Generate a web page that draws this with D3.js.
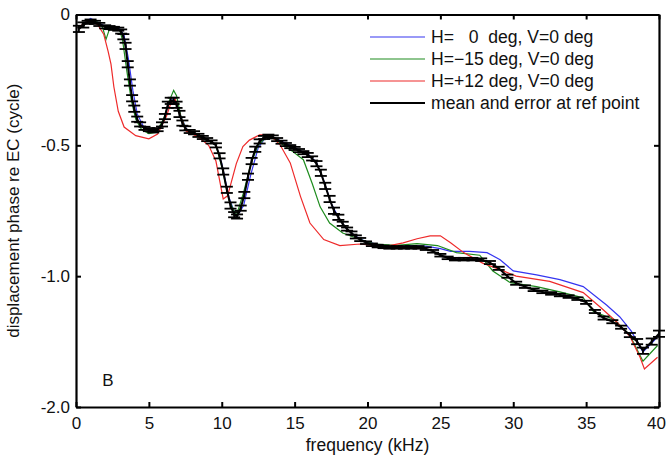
<!DOCTYPE html>
<html>
<head>
<meta charset="utf-8">
<script src="https://cdn.jsdelivr.net/npm/d3@7"></script>
<style>
  body { margin: 0; background: #fff; }
  text { font-family: "Liberation Sans", Arial, sans-serif; fill: #111; }
</style>
</head>
<body>
<div id="viz"></div>
<script>
// tick labels as printed on the figure
const xTicks = [0, 5, 10, 15, 20, 25, 30, 35, 40];
const yTicks = [0, -0.5, -1.0, -1.5];
const yTickLabels = ["0", "-0.5", "-1.0", "-2.0"];

const legendLabels = [
  "H=   0  deg, V=0 deg",
  "H=\u221215 deg, V=0 deg",
  "H=+12 deg, V=0 deg",
  "mean and error at ref point"
];

// H = 0 deg (blue)
const blueFreq  = [0.2, 0.5, 1.0, 1.5, 2.0, 2.5, 3.0, 3.3, 3.6, 3.9, 4.2, 4.6, 5.0, 5.5, 6.0, 6.3, 6.6, 6.9, 7.2, 7.6, 8.0, 9.0, 9.6, 10.0, 10.5, 11.0, 11.5, 12.0, 12.5, 13.0, 13.4, 14.0, 15.0, 16.0, 16.5, 17.0, 17.5, 18.0, 18.5, 19.0, 19.5, 20.0, 21.0, 22.0, 23.0, 24.0, 25.0, 25.7, 27.0, 28.2, 29.1, 30.0, 31.6, 33.2, 34.8, 36.4, 37.3, 38.1, 38.9, 39.6, 40.0];
const bluePhase = [-0.05, -0.035, -0.015, -0.03, -0.045, -0.05, -0.055, -0.08, -0.17, -0.29, -0.38, -0.425, -0.44, -0.445, -0.41, -0.35, -0.325, -0.34, -0.39, -0.44, -0.45, -0.478, -0.5, -0.57, -0.7, -0.775, -0.73, -0.61, -0.51, -0.47, -0.465, -0.482, -0.508, -0.538, -0.565, -0.635, -0.72, -0.775, -0.815, -0.84, -0.858, -0.87, -0.882, -0.884, -0.883, -0.885, -0.895, -0.905, -0.905, -0.91, -0.937, -0.98, -0.995, -1.013, -1.04, -1.11, -1.155, -1.21, -1.29, -1.25, -1.225];

// H = -15 deg (green)
const greenFreq  = [0.2, 0.5, 1.0, 1.5, 1.8, 2.06, 2.3, 2.7, 3.0, 3.2, 3.5, 3.8, 4.1, 4.5, 5.0, 5.5, 6.0, 6.4, 6.7, 6.9, 7.2, 7.6, 8.0, 9.0, 9.6, 10.0, 10.5, 11.0, 11.5, 12.0, 12.5, 13.0, 13.3, 14.0, 14.9, 15.6, 16.2, 16.75, 17.4, 18.3, 19.5, 20.5, 22.0, 23.4, 24.8, 26.1, 27.7, 28.6, 29.8, 31.6, 33.2, 34.8, 35.5, 36.9, 38.0, 38.9, 39.9];
const greenPhase = [-0.05, -0.035, -0.02, -0.03, -0.045, -0.095, -0.055, -0.055, -0.06, -0.1, -0.22, -0.33, -0.4, -0.44, -0.455, -0.45, -0.4, -0.33, -0.29, -0.31, -0.39, -0.445, -0.455, -0.48, -0.5, -0.58, -0.71, -0.77, -0.68, -0.57, -0.5, -0.47, -0.465, -0.49, -0.525, -0.555, -0.645, -0.735, -0.797, -0.835, -0.86, -0.877, -0.882, -0.876, -0.883, -0.91, -0.92, -0.98, -1.025, -1.04, -1.06, -1.083, -1.135, -1.165, -1.225, -1.325, -1.265];

// H = +12 deg (red)
const redFreq  = [0.2, 0.5, 1.0, 1.5, 1.9, 2.2, 2.4, 2.6, 2.9, 3.3, 4.1, 5.0, 5.6, 6.2, 6.5, 6.8, 7.05, 7.55, 8.4, 9.1, 9.6, 9.9, 10.1, 10.4, 11.0, 11.45, 11.9, 12.6, 13.3, 14.0, 14.7, 15.4, 16.05, 17.0, 18.1, 19.5, 21.1, 22.45, 23.4, 24.3, 25.0, 25.7, 26.6, 27.9, 29.1, 30.2, 32.5, 34.8, 36.0, 37.1, 38.0, 38.7, 39.0, 39.9];
const redPhase = [-0.05, -0.035, -0.02, -0.04, -0.075, -0.14, -0.19, -0.277, -0.37, -0.43, -0.463, -0.475, -0.457, -0.39, -0.34, -0.323, -0.37, -0.445, -0.468, -0.5, -0.56, -0.647, -0.705, -0.693, -0.57, -0.505, -0.48, -0.46, -0.46, -0.498, -0.567, -0.695, -0.797, -0.86, -0.883, -0.877, -0.888, -0.873, -0.857, -0.846, -0.846, -0.872, -0.91, -0.95, -0.975, -1.0, -1.02, -1.063, -1.12, -1.175, -1.23, -1.31, -1.355, -1.31];

// mean with error at reference point (black)
const meanFreq = [
  0.2, 0.5, 0.8, 1.0, 1.3, 1.6, 2.0, 2.3, 2.6, 2.9,
  3.1, 3.25, 3.4, 3.55, 3.7, 3.85, 4.0, 4.2, 4.4, 4.7,
  5.0, 5.3, 5.6, 5.9, 6.1, 6.3, 6.5, 6.7, 6.9, 7.1,
  7.3, 7.5, 7.8, 8.1, 8.4, 8.7, 9.0, 9.3, 9.6, 9.85,
  10.1, 10.35, 10.6, 10.85, 11.05, 11.3, 11.55, 11.8, 12.05, 12.3,
  12.6, 12.9, 13.2, 13.5, 13.8, 14.1, 14.4, 14.7, 15.0, 15.3,
  15.6, 15.9, 16.2, 16.5, 16.8, 17.1, 17.4, 17.7, 18.0, 18.3,
  18.6, 18.9, 19.2, 19.5, 19.9, 20.3, 20.7, 21.1, 21.5, 22.0,
  22.5, 23.0, 23.5, 24.0, 24.5, 25.0, 25.5, 26.0, 26.6, 27.2,
  27.8, 28.4, 29.0, 29.6, 30.2, 30.8, 31.4, 32.0, 32.6, 33.2,
  33.8, 34.4, 35.0, 35.6, 36.2, 36.8, 37.4, 38.0, 38.5, 38.9,
  39.5, 40.0
];
const meanPhase = [
  -0.055, -0.04, -0.03, -0.025, -0.03, -0.038, -0.047, -0.05, -0.053, -0.056,
  -0.065, -0.085, -0.12, -0.19, -0.26, -0.32, -0.36, -0.4, -0.42, -0.435,
  -0.44, -0.445, -0.44, -0.42, -0.39, -0.345, -0.33, -0.33, -0.345, -0.38,
  -0.415, -0.435, -0.447, -0.452, -0.462, -0.47, -0.478, -0.487, -0.5, -0.54,
  -0.6, -0.67, -0.73, -0.765, -0.772, -0.74, -0.69, -0.62, -0.56, -0.515,
  -0.485, -0.47, -0.465, -0.468, -0.478, -0.488, -0.497, -0.505, -0.512, -0.52,
  -0.528, -0.537, -0.55, -0.57, -0.605, -0.655, -0.705, -0.75, -0.775, -0.8,
  -0.82, -0.835, -0.85, -0.86, -0.872, -0.88, -0.885, -0.888, -0.89, -0.89,
  -0.89, -0.89, -0.89, -0.895, -0.905, -0.92, -0.93, -0.935, -0.935, -0.935,
  -0.937, -0.948, -0.97, -1.0, -1.027, -1.04, -1.052, -1.06, -1.066, -1.072,
  -1.078, -1.086, -1.1, -1.135, -1.16, -1.174, -1.195, -1.225, -1.25, -1.285,
  -1.25, -1.22
];
const meanErr = [
  0.012, 0.01, 0.006, 0.006, 0.006, 0.006, 0.006, 0.006, 0.006, 0.006,
  0.008, 0.01, 0.012, 0.012, 0.012, 0.012, 0.012, 0.01, 0.008, 0.006,
  0.006, 0.006, 0.006, 0.008, 0.01, 0.012, 0.012, 0.012, 0.012, 0.012,
  0.01, 0.008, 0.006, 0.006, 0.006, 0.006, 0.006, 0.006, 0.008, 0.01,
  0.012, 0.012, 0.012, 0.01, 0.008, 0.01, 0.012, 0.012, 0.012, 0.01,
  0.008, 0.006, 0.006, 0.006, 0.006, 0.006, 0.006, 0.006, 0.006, 0.006,
  0.006, 0.008, 0.008, 0.01, 0.012, 0.012, 0.012, 0.012, 0.01, 0.008,
  0.006, 0.006, 0.006, 0.006, 0.005, 0.005, 0.005, 0.005, 0.005, 0.005,
  0.005, 0.005, 0.005, 0.005, 0.005, 0.005, 0.005, 0.005, 0.005, 0.005,
  0.005, 0.006, 0.006, 0.006, 0.006, 0.005, 0.005, 0.005, 0.005, 0.005,
  0.005, 0.005, 0.006, 0.006, 0.006, 0.006, 0.006, 0.008, 0.01, 0.012,
  0.012, 0.012
];

const series = [
  { freq: blueFreq,  phase: bluePhase,  color: "#3535f0" },
  { freq: greenFreq, phase: greenPhase, color: "#1e8c1e" },
  { freq: redFreq,   phase: redPhase,   color: "#ee2a2a" }
];

const width = 667, height = 457;
const margin = { top: 14.5, right: 8, bottom: 50, left: 76 };

const svg = d3.select("#viz").append("svg")
  .attr("width", width)
  .attr("height", height);

const x = d3.scaleLinear().domain([0, 40]).range([margin.left, width - margin.right]);
const y = d3.scaleLinear().domain([0, -1.5]).range([margin.top, height - margin.bottom]);

const line = d3.line().x(d => x(d[0])).y(d => y(d[1]));

const plot = svg.append("g");

// the three direction curves
series.forEach(s => {
  plot.append("path")
    .datum(s.freq.map((f, i) => [f, s.phase[i]]))
    .attr("fill", "none")
    .attr("stroke", s.color)
    .attr("stroke-width", 1.2)
    .attr("d", line);
});

// mean curve with error bars
const meanData = meanFreq.map((f, i) => [f, meanPhase[i], meanErr[i]]);
plot.append("path")
  .datum(meanData)
  .attr("fill", "none")
  .attr("stroke", "#000")
  .attr("stroke-width", 2)
  .attr("d", line);

const capW = 6;
const eb = plot.append("g").attr("stroke", "#000").attr("stroke-width", 1.8);
meanData.forEach(d => {
  const cx = x(d[0]);
  const y1 = y(d[1] + d[2]), y2 = y(d[1] - d[2]);
  eb.append("line").attr("x1", cx).attr("x2", cx).attr("y1", y1).attr("y2", y2);
  eb.append("line").attr("x1", cx - capW).attr("x2", cx + capW).attr("y1", y1).attr("y2", y1);
  eb.append("line").attr("x1", cx - capW).attr("x2", cx + capW).attr("y1", y2).attr("y2", y2);
});

// axes box with inward ticks on all sides
const tickLen = 5;
const fmtY = (d, i) => yTickLabels[i];

const xBottom = svg.append("g")
  .attr("transform", `translate(0,${y(-1.5)})`)
  .call(d3.axisBottom(x).tickValues(xTicks).tickSizeInner(-tickLen).tickSizeOuter(0).tickPadding(10));
const xTop = svg.append("g")
  .attr("transform", `translate(0,${y(0)})`)
  .call(d3.axisTop(x).tickValues(xTicks).tickSizeInner(-tickLen).tickSizeOuter(0).tickFormat(""));
const yLeft = svg.append("g")
  .attr("transform", `translate(${x(0)},0)`)
  .call(d3.axisLeft(y).tickValues(yTicks).tickSizeInner(-tickLen).tickSizeOuter(0).tickPadding(6).tickFormat(fmtY));
const yRight = svg.append("g")
  .attr("transform", `translate(${x(40)},0)`)
  .call(d3.axisRight(y).tickValues(yTicks).tickSizeInner(-tickLen).tickSizeOuter(0).tickFormat(""));

[xBottom, xTop, yLeft, yRight].forEach(g => {
  g.select(".domain").attr("stroke", "#000").attr("stroke-width", 2.2);
  g.selectAll(".tick line").attr("stroke", "#000").attr("stroke-width", 2);
  g.selectAll(".tick text")
    .attr("font-family", "Liberation Sans, Arial, sans-serif")
    .attr("font-size", 17)
    .attr("fill", "#111");
});

// keep the last x label inside the window
xBottom.selectAll(".tick text").filter(d => d === 40).attr("dx", -3);

// axis titles
svg.append("text")
  .attr("x", (x(0) + x(40)) / 2)
  .attr("y", 451)
  .attr("text-anchor", "middle")
  .attr("font-size", 17.5)
  .text("frequency (kHz)");

svg.append("text")
  .attr("transform", `translate(19,${(y(0) + y(-1.5)) / 2}) rotate(-90)`)
  .attr("text-anchor", "middle")
  .attr("font-size", 17)
  .text("displacement phase re EC (cycle)");

// panel letter
svg.append("text")
  .attr("x", 108)
  .attr("y", 386)
  .attr("text-anchor", "middle")
  .attr("font-size", 17)
  .text("B");

// legend
const legendColors = series.map(s => s.color).concat(["#000"]);
const lg = svg.append("g").attr("transform", "translate(370,37)");
legendLabels.forEach((lab, i) => {
  lg.append("line")
    .attr("x1", 0).attr("x2", 55)
    .attr("y1", i * 22).attr("y2", i * 22)
    .attr("stroke", legendColors[i])
    .attr("stroke-width", i === 3 ? 2 : 1.2);
  lg.append("text")
    .attr("x", 61)
    .attr("y", i * 22)
    .attr("dy", "0.35em")
    .attr("font-size", 17.6)
    .style("white-space", "pre")
    .text(lab);
});
</script>
</body>
</html>
